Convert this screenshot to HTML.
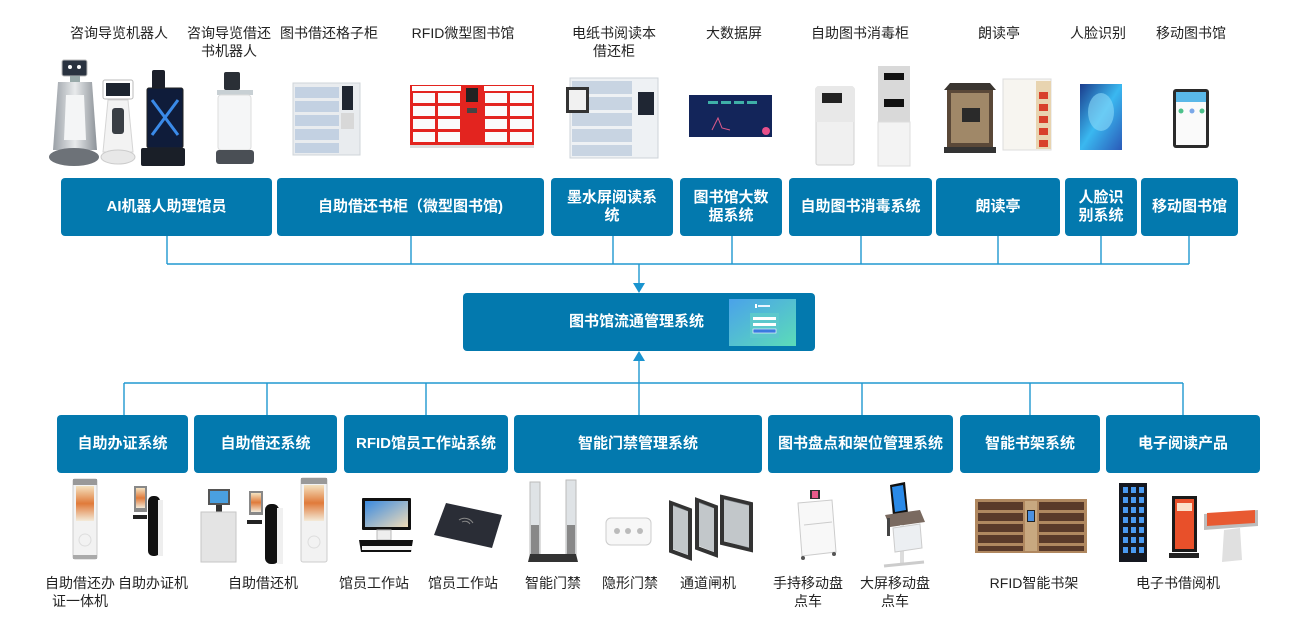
<!DOCTYPE html>
<html><head><meta charset="utf-8">
<style>
body{margin:0;width:1293px;height:622px;background:#fff;position:relative;overflow:hidden;font-family:"Liberation Sans","Noto Sans CJK SC",sans-serif}
.b{position:absolute;background:#0379ae;border-radius:4px;color:#fff;font-weight:bold;font-size:15px;display:flex;align-items:center;justify-content:center;text-align:center;line-height:18px;white-space:nowrap}
.l{position:absolute;width:140px;text-align:center;font-size:14px;line-height:18px;color:#222;white-space:nowrap}
svg{position:absolute;left:0;top:0}
</style></head><body>
<svg width="1293" height="622" viewBox="0 0 1293 622">
<defs>
<linearGradient id="sil" x1="0" x2="1"><stop offset="0" stop-color="#9aa0a6"/><stop offset="0.5" stop-color="#e8eaec"/><stop offset="1" stop-color="#8c9298"/></linearGradient>
<linearGradient id="face" x1="0" y1="0" x2="1" y2="1"><stop offset="0" stop-color="#1b3c8c"/><stop offset="0.5" stop-color="#3ab8f0"/><stop offset="1" stop-color="#2a5ab8"/></linearGradient>
<linearGradient id="thumb" x1="0" y1="0" x2="1" y2="1"><stop offset="0" stop-color="#4aa2ea"/><stop offset="1" stop-color="#5cdcb8"/></linearGradient>
<linearGradient id="scr" x1="0" y1="0" x2="1" y2="1"><stop offset="0" stop-color="#3a8ae0"/><stop offset="1" stop-color="#f0dcb8"/></linearGradient>
<linearGradient id="kio" x1="0" y1="0" x2="0" y2="1"><stop offset="0" stop-color="#f4e2c0"/><stop offset="0.5" stop-color="#e07a3a"/><stop offset="1" stop-color="#f3ead8"/></linearGradient>
</defs>

<g stroke="#2098d0" stroke-width="1.4" fill="none">
<path d="M167 236V264M411 236V264M613 236V264M732 236V264M861 236V264M998 236V264M1101 236V264M1189 236V264"/>
<path d="M167 264H1189"/>
<path d="M639 264V284"/>
<path d="M124 383H1183"/>
<path d="M124 383V415M267 383V415M426 383V415M639 360V415M862 383V415M1030 383V415M1183 383V415"/>
</g>
<polygon points="633,283 645,283 639,293" fill="#1a94cf"/>
<polygon points="633,361 645,361 639,351" fill="#1a94cf"/>

<rect x="62" y="60" width="25" height="16" rx="2" fill="#2a3340" stroke="#bbb"/>
<circle cx="70" cy="67" r="2" fill="#fff"/><circle cx="79" cy="67" r="2" fill="#fff"/>
<rect x="70" y="76" width="10" height="6" fill="#9aa"/>
<path d="M58 82L92 82L97 150L53 150Z" fill="url(#sil)"/>
<path d="M66 95L84 95L86 140L64 140Z" fill="#f4f5f6"/>
<ellipse cx="74" cy="157" rx="25" ry="9" fill="#6d7278"/>
<rect x="103" y="80" width="30" height="19" rx="2" fill="#fff" stroke="#bbb"/>
<rect x="106" y="83" width="24" height="13" fill="#1d2530"/>
<path d="M108 100L128 100L133 152L103 152Z" fill="#f3f3f3" stroke="#d5d5d5"/>
<rect x="112" y="108" width="12" height="26" rx="3" fill="#3a3f45"/>
<ellipse cx="118" cy="157" rx="17" ry="7" fill="#e8e8e8" stroke="#ccc"/>
<rect x="152" y="70" width="13" height="20" rx="2" fill="#1b1f2a"/>
<rect x="147" y="88" width="36" height="60" rx="2" fill="#0f1c3a" stroke="#222"/>
<path d="M152 100L178 135M178 100L152 135" stroke="#3a8ae8" stroke-width="3"/>
<rect x="141" y="148" width="44" height="18" rx="2" fill="#1a1f28"/>
<rect x="224" y="72" width="16" height="18" rx="2" fill="#2a2f36"/>
<rect x="217" y="90" width="36" height="5" fill="#c8d0d4"/>
<rect x="218" y="95" width="33" height="55" rx="3" fill="#f5f6f7" stroke="#ddd"/>
<rect x="216" y="150" width="38" height="14" rx="3" fill="#4a4f55"/>
<rect x="293" y="83" width="67" height="72" fill="#e9ecef" stroke="#cfd4d8"/>
<g fill="#c3d1e2"><rect x="295" y="87" width="44" height="11"/><rect x="295" y="101" width="44" height="11"/><rect x="295" y="115" width="44" height="11"/><rect x="295" y="129" width="44" height="11"/><rect x="295" y="143" width="44" height="10"/></g>
<rect x="342" y="86" width="11" height="24" fill="#1e2530"/>
<rect x="341" y="113" width="13" height="16" fill="#d8d8d8"/>
<rect x="410" y="85" width="124" height="60" fill="#e3241f"/>
<rect x="412" y="86" width="49" height="5" fill="#fff"/><rect x="484" y="86" width="48" height="5" fill="#fff"/>
<g fill="#fbfbfb">
<rect x="413" y="93" width="22" height="10"/><rect x="438" y="93" width="22" height="10"/>
<rect x="413" y="106" width="22" height="10"/><rect x="438" y="106" width="22" height="10"/>
<rect x="413" y="119" width="22" height="10"/><rect x="438" y="119" width="22" height="10"/>
<rect x="413" y="132" width="22" height="10"/><rect x="438" y="132" width="22" height="10"/>
<rect x="485" y="93" width="22" height="10"/><rect x="510" y="93" width="22" height="10"/>
<rect x="485" y="106" width="22" height="10"/><rect x="510" y="106" width="22" height="10"/>
<rect x="485" y="119" width="22" height="10"/><rect x="510" y="119" width="22" height="10"/>
<rect x="485" y="132" width="22" height="10"/><rect x="510" y="132" width="22" height="10"/>
</g>
<rect x="466" y="88" width="12" height="14" fill="#222"/>
<rect x="467" y="108" width="10" height="5" fill="#444"/>
<rect x="410" y="145" width="124" height="3" fill="#ddd"/>
<rect x="570" y="78" width="88" height="80" fill="#eef1f4" stroke="#cdd3d8"/>
<g fill="#c8d4e2"><rect x="572" y="81" width="60" height="13"/><rect x="572" y="97" width="60" height="13"/><rect x="572" y="113" width="60" height="13"/><rect x="572" y="129" width="60" height="13"/><rect x="572" y="145" width="60" height="11"/></g>
<rect x="638" y="92" width="16" height="23" fill="#1f2633"/>
<rect x="566" y="87" width="23" height="26" fill="#333"/>
<rect x="569" y="90" width="17" height="20" fill="#f1f1f1"/>
<rect x="689" y="95" width="83" height="42" fill="#13255a"/>
<g fill="#3fb0a8"><rect x="708" y="101" width="10" height="3"/><rect x="721" y="101" width="10" height="3"/><rect x="734" y="101" width="10" height="3"/><rect x="747" y="101" width="10" height="3"/></g>
<path d="M712 130L718 118L722 128L730 130" stroke="#e05a8a" fill="none"/>
<circle cx="766" cy="131" r="4" fill="#e8508a"/>
<rect x="816" y="87" width="38" height="78" rx="2" fill="#f0f0f0" stroke="#d2d2d2"/>
<rect x="816" y="87" width="38" height="35" fill="#e8e8e8"/>
<rect x="822" y="93" width="20" height="10" fill="#222"/>
<rect x="878" y="66" width="32" height="56" fill="#d9d9d9"/>
<rect x="878" y="122" width="32" height="44" fill="#f3f3f3" stroke="#ddd"/>
<rect x="884" y="73" width="20" height="7" fill="#111"/>
<rect x="884" y="99" width="20" height="8" fill="#111"/>
<path d="M944 90L950 83L990 83L996 90Z" fill="#3a3530"/>
<rect x="947" y="90" width="46" height="58" fill="#5a4838"/>
<rect x="951" y="93" width="38" height="50" fill="#a08868"/>
<rect x="962" y="108" width="18" height="14" fill="#2a2a2a"/>
<rect x="944" y="147" width="52" height="6" fill="#333"/>
<rect x="1003" y="79" width="48" height="71" fill="#f7f5f0" stroke="#ddd"/>
<rect x="1036" y="81" width="15" height="68" fill="#e8d4b0"/>
<g fill="#d8402a"><rect x="1039" y="92" width="9" height="7"/><rect x="1039" y="104" width="9" height="7"/><rect x="1039" y="116" width="9" height="7"/><rect x="1039" y="128" width="9" height="7"/><rect x="1039" y="140" width="9" height="7"/></g>
<rect x="1080" y="84" width="42" height="66" fill="url(#face)"/>
<ellipse cx="1101" cy="112" rx="13" ry="19" fill="#8ad8f8" opacity="0.6"/>
<rect x="1173" y="89" width="36" height="59" rx="3" fill="#2a2a2a"/>
<rect x="1176" y="92" width="30" height="53" fill="#fafafa"/>
<rect x="1176" y="92" width="30" height="10" fill="#5ab8e8"/>
<circle cx="1181" cy="111" r="2.5" fill="#4cc08a"/><circle cx="1192" cy="111" r="2.5" fill="#7aa8e8"/><circle cx="1202" cy="111" r="2.5" fill="#4cc08a"/>

<rect x="73" y="479" width="24" height="80" rx="2" fill="#f2f2f2" stroke="#ccc"/>
<rect x="73" y="479" width="24" height="6" fill="#999"/>
<rect x="76" y="486" width="18" height="35" fill="url(#kio)"/>
<circle cx="85" cy="540" r="6" fill="none" stroke="#ddd"/>
<rect x="73" y="555" width="24" height="4" fill="#aaa"/>
<rect x="134" y="486" width="13" height="26" fill="#888"/>
<rect x="136" y="488" width="9" height="20" fill="url(#kio)"/>
<rect x="133" y="515" width="14" height="4" fill="#222"/>
<rect x="148" y="496" width="12" height="60" rx="5" fill="#111"/>
<rect x="158" y="500" width="5" height="56" fill="#eee"/>
<rect x="208" y="489" width="22" height="16" fill="#555"/>
<rect x="210" y="491" width="18" height="12" fill="#4aa0e0"/>
<rect x="216" y="505" width="6" height="8" fill="#333"/>
<rect x="201" y="512" width="35" height="50" fill="#e4e4e4" stroke="#c6c6c6"/>
<rect x="249" y="491" width="14" height="24" fill="#888"/>
<rect x="251" y="493" width="10" height="19" fill="url(#kio)"/>
<rect x="247" y="520" width="15" height="4" fill="#222"/>
<rect x="265" y="504" width="14" height="60" rx="6" fill="#111"/>
<rect x="277" y="508" width="6" height="56" fill="#f0f0f0"/>
<rect x="301" y="478" width="26" height="84" rx="2" fill="#f2f2f2" stroke="#ccc"/>
<rect x="301" y="478" width="26" height="6" fill="#999"/>
<rect x="304" y="485" width="20" height="36" fill="url(#kio)"/>
<circle cx="314" cy="542" r="6" fill="none" stroke="#ddd"/>
<rect x="362" y="498" width="49" height="32" rx="1" fill="#111"/>
<rect x="365" y="501" width="43" height="26" fill="url(#scr)"/>
<rect x="377" y="530" width="14" height="10" fill="#eee" stroke="#bbb"/>
<path d="M359 540L413 540L411 552L361 552Z" fill="#111"/>
<rect x="362" y="546" width="50" height="4" fill="#f5f5f5"/>
<path d="M446 503L502 515L492 548L434 535Z" fill="#2a2d36"/>
<path d="M462 522a6 6 0 0 1 8 2M459 520a10 10 0 0 1 14 3" stroke="#888" fill="none"/>
<rect x="530" y="482" width="10" height="72" fill="#dfe3e6" stroke="#bbb"/>
<rect x="566" y="480" width="10" height="74" fill="#dfe3e6" stroke="#bbb"/>
<rect x="531" y="525" width="8" height="30" fill="#888"/>
<rect x="567" y="525" width="8" height="30" fill="#888"/>
<path d="M530 554L576 554L578 562L528 562Z" fill="#333"/>
<rect x="606" y="518" width="45" height="27" rx="5" fill="#f7f7f7" stroke="#ccc"/>
<g fill="#bbb"><circle cx="617" cy="531" r="3"/><circle cx="628" cy="531" r="3"/><circle cx="640" cy="531" r="3"/></g>
<g fill="none" stroke="#333" stroke-width="4">
<path d="M671 503L690 510L690 558L671 551Z"/>
<path d="M697 500L716 507L716 555L697 548Z"/>
<path d="M722 497L751 504L751 550L722 543Z"/>
</g>
<g fill="#9aa3a8" opacity="0.6"><path d="M673 505L688 511L688 555L673 549Z"/><path d="M699 502L714 508L714 552L699 546Z"/><path d="M724 499L749 505L749 548L724 541Z"/></g>
<rect x="810" y="490" width="10" height="9" fill="#333"/>
<rect x="812" y="491" width="6" height="7" fill="#e85a8a"/>
<path d="M798 503L832 500L836 552L802 556Z" fill="#f8f8f8" stroke="#ccc"/>
<path d="M804 525L832 522" stroke="#ccc"/>
<circle cx="803" cy="558" r="2" fill="#555"/><circle cx="834" cy="554" r="2" fill="#555"/>
<path d="M890 485L905 482L908 513L893 516Z" fill="#111"/>
<path d="M892 487L903 485L906 510L895 512Z" fill="#2a8ae8"/>
<path d="M885 515L920 510L925 522L890 527Z" fill="#7a6a60"/>
<rect x="900" y="525" width="4" height="38" fill="#ddd"/>
<path d="M893 528L920 524L922 548L895 552Z" fill="#eceff2" stroke="#ccc"/>
<path d="M884 566L924 562" stroke="#ccc" stroke-width="3"/>
<rect x="887" y="518" width="3" height="18" fill="#444"/>
<rect x="975" y="499" width="112" height="54" fill="#b08860"/>
<g fill="#5a3a2a">
<rect x="978" y="502" width="45" height="8"/><rect x="978" y="513" width="45" height="8"/><rect x="978" y="524" width="45" height="8"/><rect x="978" y="535" width="45" height="8"/><rect x="978" y="546" width="45" height="5"/>
<rect x="1039" y="502" width="45" height="8"/><rect x="1039" y="513" width="45" height="8"/><rect x="1039" y="524" width="45" height="8"/><rect x="1039" y="535" width="45" height="8"/><rect x="1039" y="546" width="45" height="5"/>
</g>
<rect x="1025" y="501" width="12" height="50" fill="#c8a880"/>
<rect x="1027" y="510" width="8" height="12" fill="#222"/>
<rect x="1028" y="511" width="6" height="10" fill="#4a90e0"/>
<rect x="1119" y="483" width="28" height="79" fill="#151820"/>
<g fill="#4a9af0">
<rect x="1123" y="487" width="5" height="6"/><rect x="1131" y="487" width="5" height="6"/><rect x="1139" y="487" width="5" height="6"/>
<rect x="1123" y="497" width="5" height="6"/><rect x="1131" y="497" width="5" height="6"/><rect x="1139" y="497" width="5" height="6"/>
<rect x="1123" y="507" width="5" height="6"/><rect x="1131" y="507" width="5" height="6"/><rect x="1139" y="507" width="5" height="6"/>
<rect x="1123" y="517" width="5" height="6"/><rect x="1131" y="517" width="5" height="6"/><rect x="1139" y="517" width="5" height="6"/>
<rect x="1123" y="527" width="5" height="6"/><rect x="1131" y="527" width="5" height="6"/><rect x="1139" y="527" width="5" height="6"/>
<rect x="1123" y="537" width="5" height="6"/><rect x="1131" y="537" width="5" height="6"/><rect x="1139" y="537" width="5" height="6"/>
<rect x="1123" y="547" width="5" height="6"/><rect x="1131" y="547" width="5" height="6"/><rect x="1139" y="547" width="5" height="6"/>
</g>
<rect x="1172" y="496" width="25" height="56" fill="#1a1a1a"/>
<rect x="1175" y="499" width="19" height="50" fill="#e8502a"/>
<rect x="1177" y="503" width="15" height="8" fill="#fbe0c8"/>
<rect x="1169" y="553" width="30" height="5" fill="#222"/>
<path d="M1204 514L1258 510L1258 526L1204 530Z" fill="#bdbdbd"/>
<path d="M1207 513L1255 510L1255 523L1207 526Z" fill="#e85a32"/>
<path d="M1224 530L1240 528L1242 560L1222 562Z" fill="#e0e0e0"/>
</svg>

<div class="b" style="left:61px;top:178px;width:211px;height:58px">AI机器人助理馆员</div>
<div class="b" style="left:277px;top:178px;width:267px;height:58px">自助借还书柜（微型图书馆)</div>
<div class="b" style="left:551px;top:178px;width:122px;height:58px">墨水屏阅读系<br>统</div>
<div class="b" style="left:680px;top:178px;width:102px;height:58px">图书馆大数<br>据系统</div>
<div class="b" style="left:789px;top:178px;width:143px;height:58px">自助图书消毒系统</div>
<div class="b" style="left:936px;top:178px;width:124px;height:58px">朗读亭</div>
<div class="b" style="left:1065px;top:178px;width:72px;height:58px">人脸识<br>别系统</div>
<div class="b" style="left:1141px;top:178px;width:97px;height:58px">移动图书馆</div>

<div class="b" style="left:463px;top:293px;width:352px;height:58px;justify-content:flex-start"><span style="margin-left:106px">图书馆流通管理系统</span></div>
<svg width="1293" height="622" viewBox="0 0 1293 622" style="pointer-events:none">
<defs><linearGradient id="thumb2" x1="0" y1="0" x2="1" y2="1"><stop offset="0" stop-color="#4aa2ea"/><stop offset="1" stop-color="#5cdcb8"/></linearGradient></defs>
<rect x="729" y="299" width="67" height="47" fill="url(#thumb2)"/>
<rect x="750" y="313" width="29" height="25" fill="#5cc8cc"/>
<rect x="753" y="317" width="23" height="3" fill="#fff"/>
<rect x="753" y="323" width="23" height="3" fill="#fff"/>
<rect x="753" y="329" width="23" height="4" fill="#3a7ae0" stroke="#fff" stroke-width="0.6"/>
<rect x="755" y="304" width="2" height="4" fill="#fff"/>
<rect x="758" y="305" width="12" height="2" fill="#e8f4ff"/>
</svg>

<div class="b" style="left:57px;top:415px;width:131px;height:58px">自助办证系统</div>
<div class="b" style="left:194px;top:415px;width:143px;height:58px">自助借还系统</div>
<div class="b" style="left:344px;top:415px;width:164px;height:58px">RFID馆员工作站系统</div>
<div class="b" style="left:514px;top:415px;width:248px;height:58px">智能门禁管理系统</div>
<div class="b" style="left:768px;top:415px;width:185px;height:58px">图书盘点和架位管理系统</div>
<div class="b" style="left:960px;top:415px;width:140px;height:58px">智能书架系统</div>
<div class="b" style="left:1106px;top:415px;width:154px;height:58px">电子阅读产品</div>

<div class="l" style="left:49px;top:24px">咨询导览机器人</div>
<div class="l" style="left:159px;top:24px">咨询导览借还<br>书机器人</div>
<div class="l" style="left:259px;top:24px">图书借还格子柜</div>
<div class="l" style="left:393px;top:24px">RFID微型图书馆</div>
<div class="l" style="left:544px;top:24px">电纸书阅读本<br>借还柜</div>
<div class="l" style="left:664px;top:24px">大数据屏</div>
<div class="l" style="left:790px;top:24px">自助图书消毒柜</div>
<div class="l" style="left:929px;top:24px">朗读亭</div>
<div class="l" style="left:1028px;top:24px">人脸识别</div>
<div class="l" style="left:1121px;top:24px">移动图书馆</div>

<div class="l" style="left:10px;top:574px">自助借还办<br>证一体机</div>
<div class="l" style="left:83px;top:574px">自助办证机</div>
<div class="l" style="left:193px;top:574px">自助借还机</div>
<div class="l" style="left:304px;top:574px">馆员工作站</div>
<div class="l" style="left:393px;top:574px">馆员工作站</div>
<div class="l" style="left:483px;top:574px">智能门禁</div>
<div class="l" style="left:560px;top:574px">隐形门禁</div>
<div class="l" style="left:638px;top:574px">通道闸机</div>
<div class="l" style="left:738px;top:574px">手持移动盘<br>点车</div>
<div class="l" style="left:825px;top:574px">大屏移动盘<br>点车</div>
<div class="l" style="left:964px;top:574px">RFID智能书架</div>
<div class="l" style="left:1108px;top:574px">电子书借阅机</div>
</body></html>
